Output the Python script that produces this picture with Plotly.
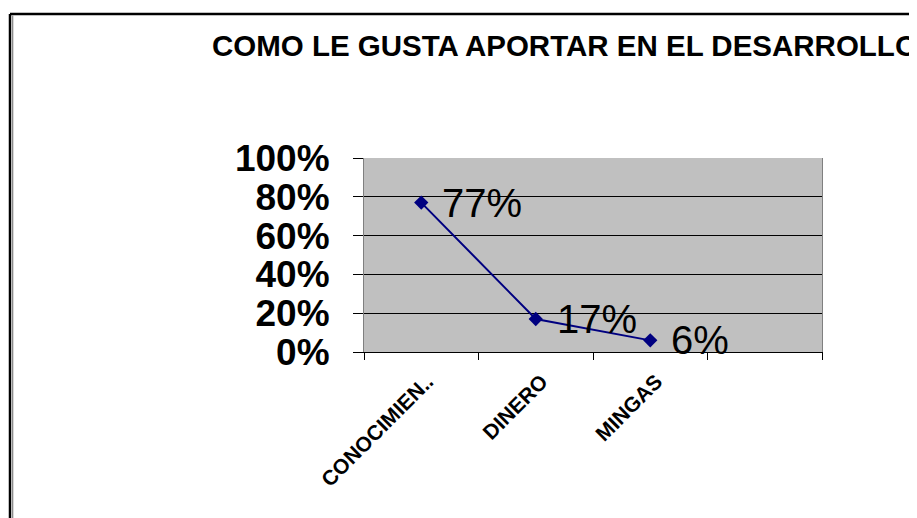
import plotly.graph_objects as go

categories = ["CONOCIMIEN..", "DINERO", "MINGAS"]
values = [0.77, 0.17, 0.06]
labels = ["77%", "17%", "6%"]
axis_categories = categories + [" "]
y_ticks = [0, 0.2, 0.4, 0.6, 0.8, 1.0]
y_tick_text = ["0%", "20%", "40%", "60%", "80%", "100%"]
title_text = "COMO LE GUSTA APORTAR EN EL DESARROLLO"

# page body has an 8px default margin; figure sized to fill the rest of the window
OFF = 8
W, H = 917 - OFF, 518 - OFF
FONT = "Liberation Sans, Arial, sans-serif"


def px(x):
    return (x - OFF) / W


def py(y):
    return 1 - (y - OFF) / H


fig = go.Figure()
fig.add_trace(go.Scatter(
    x=categories, y=values, mode="lines+markers",
    line=dict(color="#000080", width=2),
    marker=dict(symbol="diamond", size=11, color="#000080"),
    hoverinfo="skip", showlegend=False))

for c, v, t in zip(categories, values, labels):
    fig.add_annotation(x=c, y=v, text=t, xref="x", yref="y",
                       xanchor="left", yanchor="middle", xshift=19,
                       showarrow=False,
                       font=dict(size=40, color="black", family=FONT))

# outer chart border
fig.add_shape(type="line", xref="paper", yref="paper",
              x0=px(10), x1=1.0, y0=py(14), y1=py(14),
              line=dict(color="black", width=2.5))
fig.add_shape(type="line", xref="paper", yref="paper",
              x0=px(10), x1=px(10), y0=0, y1=py(14),
              line=dict(color="black", width=2.5))
fig.add_shape(type="line", xref="paper", yref="paper",
              x0=px(12.7), x1=px(12.7), y0=0, y1=py(15.5),
              line=dict(color="#808080", width=1.2))

fig.update_layout(
    width=W, height=H, autosize=False,
    margin=dict(l=0, r=0, t=0, b=0, autoexpand=False),
    paper_bgcolor="white", plot_bgcolor="#C0C0C0",
    font=dict(family=FONT, color="black"),
    title=dict(text=title_text, x=px(212), xref="container", xanchor="left",
               y=py(46), yref="container", yanchor="middle",
               font=dict(size=29.5, color="black", family=FONT, weight="bold")),
    xaxis=dict(
        domain=[px(364), px(822)],
        type="category", categoryorder="array", categoryarray=axis_categories,
        range=[-0.5, 3.5], tickson="boundaries",
        ticks="outside", ticklen=7, tickcolor="black", tickwidth=1,
        showline=True, linecolor="black", linewidth=1,
        showgrid=False, zeroline=False,
        tickangle=-45, automargin=False,
        tickfont=dict(size=21, family=FONT, color="black", weight="bold"),
        ticklabelstandoff=8, ticklabelshift=6,
    ),
    yaxis=dict(
        domain=[py(352), py(158)],
        range=[0, 1], tickvals=y_ticks, ticktext=y_tick_text,
        ticks="outside", ticklen=10, tickcolor="black", tickwidth=1,
        showline=True, linecolor="#808080", linewidth=1, mirror=True,
        showgrid=True, gridcolor="black", gridwidth=1, zeroline=False,
        automargin=False,
        tickfont=dict(size=37, family=FONT, color="black", weight="bold"),
        ticklabelstandoff=16,
    ),
)

fig.write_html("out.html")
